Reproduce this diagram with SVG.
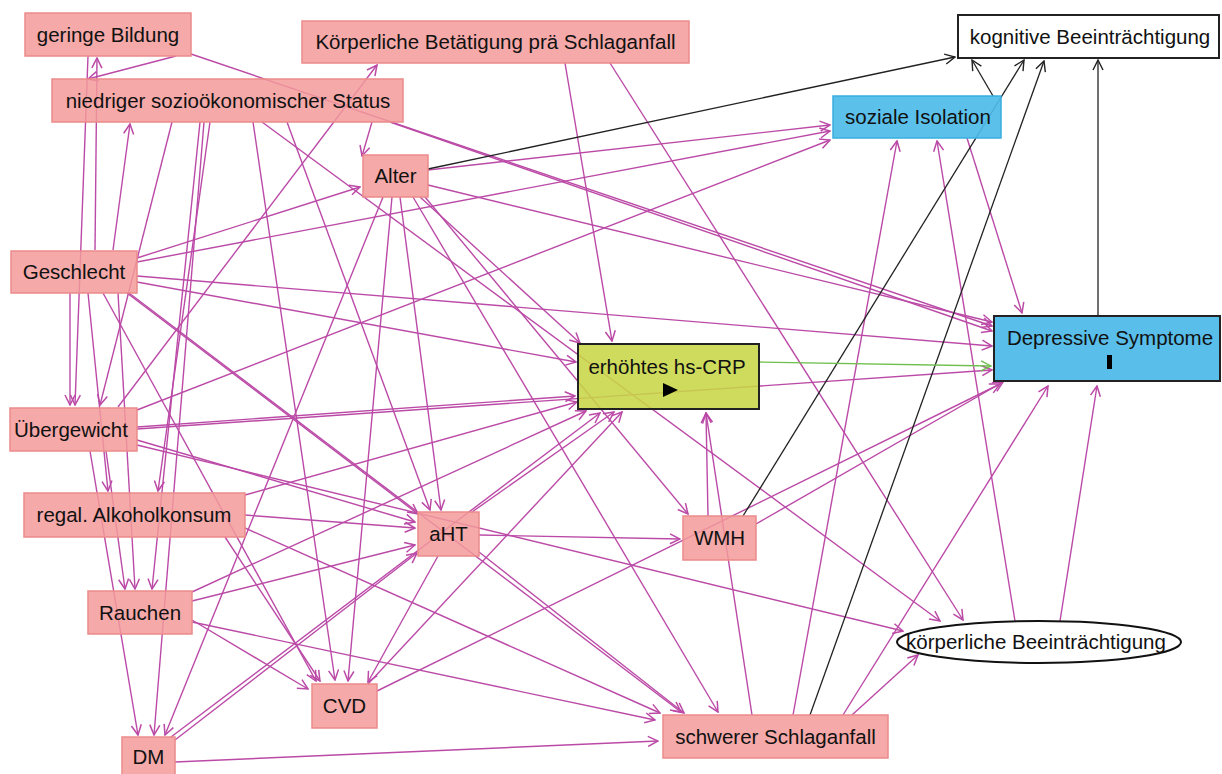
<svg xmlns="http://www.w3.org/2000/svg" width="1222" height="774" viewBox="0 0 1222 774">
<style>
.e{stroke:#bb4aa7;stroke-width:1.4;fill:none;marker-end:url(#am)}
.k{stroke:#222;stroke-width:1.3;fill:none;marker-end:url(#ak)}
.g{stroke:#6fbf4f;stroke-width:1.3;fill:none;marker-end:url(#ag)}
.p{fill:#f39a9a;fill-opacity:0.85;stroke:#ec8a8a;stroke-width:1.5}
.t{font-family:"Liberation Sans",Arial,sans-serif;font-size:20.5px;fill:#111;text-anchor:middle}
</style>
<defs>
<marker id="am" viewBox="0 0 12 12" refX="11" refY="6" markerWidth="12" markerHeight="12" markerUnits="userSpaceOnUse" orient="auto"><path d="M1,1 L11,6 L1,11" fill="none" stroke="#bb4aa7" stroke-width="1.5"/></marker>
<marker id="ak" viewBox="0 0 12 12" refX="11" refY="6" markerWidth="12" markerHeight="12" markerUnits="userSpaceOnUse" orient="auto"><path d="M1,1 L11,6 L1,11" fill="none" stroke="#222" stroke-width="1.4"/></marker>
<marker id="ag" viewBox="0 0 12 12" refX="11" refY="6" markerWidth="12" markerHeight="12" markerUnits="userSpaceOnUse" orient="auto"><path d="M1,1 L11,6 L1,11" fill="none" stroke="#6fbf4f" stroke-width="1.4"/></marker>
</defs>
<rect width="1222" height="774" fill="#fff"/>
<g id="connectors">
<line class="e" x1="176" y1="56" x2="88" y2="79"/>
<line class="e" x1="191" y1="54" x2="992" y2="326"/>
<line class="e" x1="88" y1="56" x2="75" y2="405"/>
<line class="e" x1="172" y1="122" x2="100" y2="405"/>
<line class="e" x1="200" y1="122" x2="152" y2="589"/>
<line class="e" x1="204" y1="122" x2="154" y2="735"/>
<line class="e" x1="210" y1="122" x2="158" y2="491"/>
<line class="e" x1="253" y1="122" x2="335" y2="680"/>
<line class="e" x1="287" y1="122" x2="430" y2="510"/>
<line class="e" x1="372" y1="122" x2="362" y2="156"/>
<line class="e" x1="390" y1="122" x2="992" y2="331"/>
<line class="e" x1="262" y1="122" x2="940" y2="621"/>
<line class="e" x1="113" y1="250" x2="130" y2="124"/>
<line class="e" x1="95" y1="250" x2="97" y2="58"/>
<line class="e" x1="70" y1="293" x2="70" y2="405"/>
<line class="e" x1="88" y1="293" x2="108" y2="491"/>
<line class="e" x1="118" y1="293" x2="135" y2="589"/>
<line class="e" x1="137" y1="258" x2="360" y2="187"/>
<line class="e" x1="137" y1="262" x2="830" y2="131"/>
<line class="e" x1="137" y1="276" x2="992" y2="346"/>
<line class="e" x1="137" y1="282" x2="576" y2="362"/>
<line class="e" x1="127" y1="293" x2="418" y2="514"/>
<line class="e" x1="129" y1="293" x2="681" y2="712"/>
<line class="e" x1="103" y1="293" x2="316" y2="681"/>
<line class="e" x1="118" y1="407" x2="377" y2="65"/>
<line class="e" x1="137" y1="410" x2="830" y2="140"/>
<line class="e" x1="137" y1="427" x2="575" y2="396"/>
<line class="e" x1="137" y1="429" x2="992" y2="370"/>
<line class="e" x1="137" y1="440" x2="415" y2="522"/>
<line class="e" x1="137" y1="445" x2="903" y2="631"/>
<line class="e" x1="106" y1="451" x2="125" y2="589"/>
<line class="e" x1="90" y1="451" x2="138" y2="735"/>
<line class="e" x1="428" y1="170" x2="830" y2="125"/>
<line class="e" x1="428" y1="185" x2="992" y2="322"/>
<line class="e" x1="420" y1="197" x2="580" y2="343"/>
<line class="e" x1="425" y1="197" x2="688" y2="514"/>
<line class="e" x1="413" y1="197" x2="718" y2="712"/>
<line class="e" x1="400" y1="197" x2="441" y2="510"/>
<line class="e" x1="392" y1="197" x2="348" y2="681"/>
<line class="e" x1="383" y1="197" x2="165" y2="735"/>
<line class="e" x1="565" y1="63" x2="612" y2="341"/>
<line class="e" x1="610" y1="63" x2="963" y2="620"/>
<line class="e" x1="245" y1="495" x2="577" y2="402"/>
<line class="e" x1="245" y1="515" x2="415" y2="528"/>
<line class="e" x1="225" y1="537" x2="320" y2="681"/>
<line class="e" x1="245" y1="528" x2="660" y2="713"/>
<line class="e" x1="192" y1="592" x2="586" y2="411"/>
<line class="e" x1="192" y1="601" x2="415" y2="545"/>
<line class="e" x1="192" y1="620" x2="308" y2="689"/>
<line class="e" x1="192" y1="622" x2="655" y2="720"/>
<line class="e" x1="175" y1="740" x2="417" y2="553"/>
<line class="e" x1="171" y1="737" x2="600" y2="413"/>
<line class="e" x1="175" y1="762" x2="658" y2="741"/>
<line class="e" x1="479" y1="535" x2="680" y2="539"/>
<line class="e" x1="479" y1="552" x2="684" y2="713"/>
<line class="e" x1="472" y1="512" x2="614" y2="412"/>
<line class="e" x1="438" y1="556" x2="368" y2="682"/>
<line class="e" x1="368" y1="684" x2="622" y2="412"/>
<line class="e" x1="377" y1="691" x2="1000" y2="384"/>
<line class="e" x1="708" y1="516" x2="706" y2="413"/>
<line class="e" x1="756" y1="524" x2="1003" y2="382"/>
<line class="e" x1="752" y1="715" x2="706" y2="413"/>
<line class="e" x1="793" y1="715" x2="897" y2="141"/>
<line class="e" x1="843" y1="715" x2="1048" y2="386"/>
<line class="e" x1="852" y1="715" x2="918" y2="655"/>
<line class="e" x1="1015" y1="621" x2="937" y2="141"/>
<line class="e" x1="1060" y1="621" x2="1097" y2="386"/>
<line class="e" x1="967" y1="138" x2="1022" y2="313"/>
<line class="k" x1="428" y1="169" x2="955" y2="57"/>
<line class="k" x1="993" y1="96" x2="972" y2="60"/>
<line class="k" x1="743" y1="516" x2="1024" y2="60"/>
<line class="k" x1="810" y1="715" x2="1044" y2="61"/>
<line class="k" x1="1098" y1="316" x2="1098" y2="60"/>
<line class="g" x1="759" y1="362" x2="991" y2="366"/>
</g>
<g id="n-geringe-bildung"><rect class="p" x="25" y="13" width="166" height="43"/><text class="t" x="108" y="41.5">geringe Bildung</text></g>
<g id="n-ses"><rect class="p" x="52" y="79" width="351" height="43"/><text class="t" x="228" y="108">niedriger sozioökonomischer Status</text></g>
<g id="n-koerperliche-betaetigung"><rect class="p" x="302" y="21" width="387" height="42"/><text class="t" x="495.5" y="49">Körperliche Betätigung prä Schlaganfall</text></g>
<g id="n-alter"><rect class="p" x="363" y="155" width="65" height="42"/><text class="t" x="395.5" y="183">Alter</text></g>
<g id="n-kognitive"><rect x="958" y="15" width="261" height="43" fill="#fff" stroke="#222" stroke-width="2"/><text class="t" x="1090" y="44">kognitive Beeinträchtigung</text></g>
<g id="n-soziale-isolation"><rect x="833" y="96" width="168" height="42" fill="#4dbbe8" fill-opacity="0.92" stroke="#3aaee0" stroke-width="1.5"/><text class="t" x="918" y="124">soziale Isolation</text></g>
<g id="n-geschlecht"><rect class="p" x="11" y="251" width="126" height="42"/><text class="t" x="74" y="279">Geschlecht</text></g>
<g id="n-uebergewicht"><rect class="p" x="10" y="408" width="127" height="43"/><text class="t" x="71" y="437">Übergewicht</text></g>
<g id="n-crp"><rect x="578" y="344" width="181" height="65" fill="#c8d646" fill-opacity="0.88" stroke="#222" stroke-width="2"/><text class="t" x="667" y="374">erhöhtes hs-CRP</text><polygon points="663,383 678,390 663,397" fill="#000"/></g>
<g id="n-depressive"><rect x="994" y="316" width="226" height="65" fill="#4bb9e7" fill-opacity="0.92" stroke="#222" stroke-width="2"/><text class="t" x="1110" y="345">Depressive Symptome</text><rect x="1107" y="355" width="5" height="14" fill="#000"/></g>
<g id="n-alkohol"><rect class="p" x="24" y="493" width="221" height="44"/><text class="t" x="134" y="522">regal. Alkoholkonsum</text></g>
<g id="n-aht"><rect class="p" x="418" y="512" width="61" height="44"/><text class="t" x="448.5" y="541">aHT</text></g>
<g id="n-wmh"><rect class="p" x="683" y="516" width="73" height="44"/><text class="t" x="719.5" y="545">WMH</text></g>
<g id="n-rauchen"><rect class="p" x="88" y="591" width="104" height="43"/><text class="t" x="140" y="620">Rauchen</text></g>
<g id="n-koerperliche-beeintraechtigung"><ellipse cx="1039" cy="642" rx="142" ry="21" fill="#fff" fill-opacity="0.9" stroke="#111" stroke-width="2"/><text class="t" x="1036" y="649">körperliche Beeinträchtigung</text></g>
<g id="n-cvd"><rect class="p" x="312" y="684" width="65" height="44"/><text class="t" x="344.5" y="713">CVD</text></g>
<g id="n-schlaganfall"><rect class="p" x="663" y="715" width="225" height="43"/><text class="t" x="775.5" y="744">schwerer Schlaganfall</text></g>
<g id="n-dm"><rect class="p" x="122" y="737" width="53" height="42"/><text class="t" x="148.5" y="764">DM</text></g>
</svg>
